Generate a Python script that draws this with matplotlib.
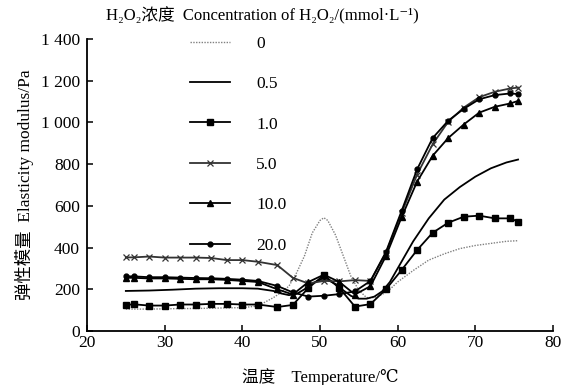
import matplotlib
matplotlib.use("Agg")
import matplotlib.pyplot as plt
from matplotlib.ticker import FuncFormatter

plt.rcParams['font.family'] = ['Liberation Serif', 'DejaVu Serif', 'Noto Sans CJK SC']

# ---- data ----
temp_c0 = [25, 28, 31, 34, 37, 40, 42, 43, 44, 45, 46, 47, 48, 49, 50, 50.5, 51, 52, 53, 54,
           55, 56, 57, 58, 59, 60, 62, 64, 66, 68, 70, 72, 74, 75.5]
mod_c0 = [105, 105, 107, 108, 110, 112, 120, 140, 160, 185, 215, 280, 360, 470, 530, 543, 530, 460, 360, 260,
          195, 160, 160, 175, 200, 235, 290, 340, 370, 395, 410, 420, 430, 433]

temp_c05 = [25, 28, 31, 34, 37, 40, 42, 44, 45, 46, 47, 48, 49, 50, 51, 52, 53, 54, 55, 56,
            57, 58, 59, 60, 61, 62, 64, 66, 68, 70, 72, 74, 75.5]
mod_c05 = [192, 194, 198, 203, 205, 205, 203, 192, 180, 172, 178, 200, 228, 245, 245, 225, 195, 168, 155, 155,
           165, 190, 235, 300, 365, 430, 540, 630, 690, 740, 780, 808, 822]

temp_m = [25, 26, 28, 30, 32, 34, 36, 38, 40, 42, 44.5, 46.5, 48.5, 50.5, 52.5, 54.5, 56.5,
          58.5, 60.5, 62.5, 64.5, 66.5, 68.5, 70.5, 72.5, 74.5, 75.5]
mod_c1 = [125, 128, 122, 122, 127, 127, 130, 130, 127, 127, 115, 125, 206, 268, 206, 117, 129,
          200, 292, 388, 471, 519, 548, 553, 540, 540, 524]
mod_c5 = [353, 353, 357, 352, 352, 352, 350, 340, 340, 332, 316, 255, 228, 240, 238, 244, 240,
          375, 565, 750, 895, 1003, 1071, 1121, 1147, 1163, 1167]
mod_c10 = [255, 255, 252, 252, 250, 248, 248, 245, 240, 235, 200, 175, 235, 270, 235, 175, 215,
           360, 545, 716, 840, 925, 990, 1047, 1075, 1091, 1103]
mod_c20 = [262, 262, 258, 258, 256, 254, 253, 250, 246, 240, 216, 185, 165, 169, 177, 190, 240,
           380, 575, 775, 925, 1008, 1065, 1111, 1131, 1139, 1136]

labels = ['0', '0.5', '1.0', '5.0', '10.0', '20.0']
x_ticks = [20, 30, 40, 50, 60, 70, 80]
y_ticks = [0, 200, 400, 600, 800, 1000, 1200, 1400]

# ---- figure ----
fig = plt.figure(figsize=(5.69, 3.85), dpi=100)
ax = fig.add_axes([87/569, 1 - 331/385, 466/569, 292/385])

lw = 1.3
ax.plot(temp_c0, mod_c0, color='#808080', lw=1.0, ls=(0, (1, 1)), label=labels[0])
ax.plot(temp_c05, mod_c05, color='black', lw=lw, label=labels[1])
ax.plot(temp_m, mod_c1, color='black', lw=lw, marker='s', ms=4.5, label=labels[2])
ax.plot(temp_m, mod_c5, color='#333333', lw=lw, marker='x', ms=5, mew=0.9, label=labels[3])
ax.plot(temp_m, mod_c10, color='black', lw=lw, marker='^', ms=3.8, label=labels[4])
ax.plot(temp_m, mod_c20, color='black', lw=lw, marker='o', ms=3.5, label=labels[5])

ax.set_xlim(20, 80)
ax.set_ylim(0, 1400)
ax.set_xticks(x_ticks)
ax.set_yticks(y_ticks)
ax.yaxis.set_major_formatter(FuncFormatter(lambda v, p: f"{int(v):,}".replace(',', ' ')))
for s in ['top', 'right']:
    ax.spines[s].set_visible(False)
for s in ['left', 'bottom']:
    ax.spines[s].set_linewidth(1.3)
ax.tick_params(direction='in', length=4, width=1.1, labelsize=12.5)
ax.tick_params(axis='x', pad=3)
ax.tick_params(axis='y', pad=5)

ax.set_xlabel('温度    Temperature/℃', fontsize=12, labelpad=12)
ax.set_ylabel('弹性模量  Elasticity modulus/Pa', fontsize=12.5, labelpad=5)

leg = ax.legend(loc='upper left', bbox_to_anchor=(0.221, 1.012), frameon=False,
                fontsize=12.5, handlelength=2.3, handletextpad=1.5, labelspacing=1.4,
                borderpad=0, borderaxespad=0)

fig.text(262/569, 1 - 16/385, 'H₂O₂浓度  Concentration of H₂O₂/(mmol·L⁻¹)',
         ha='center', va='center', fontsize=12)

fig.savefig('out.png', dpi=100)
